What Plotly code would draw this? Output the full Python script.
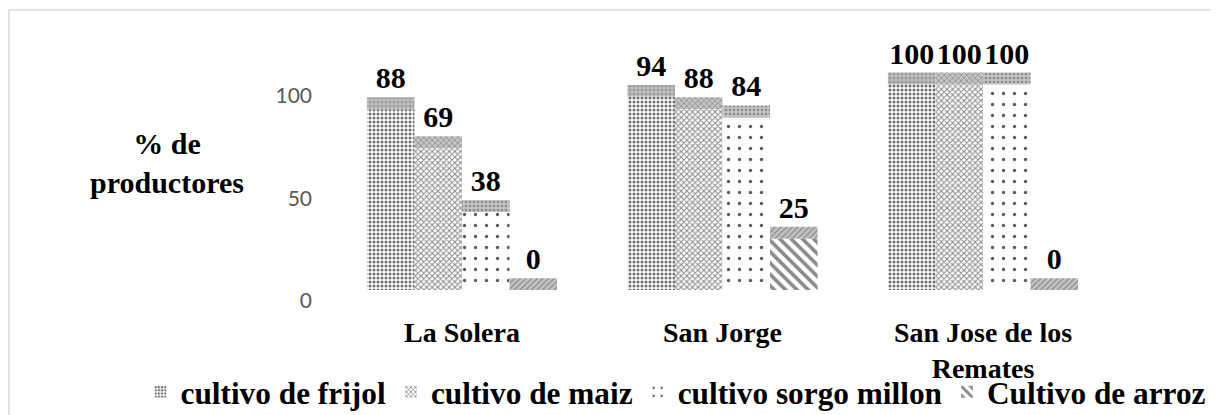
import plotly.graph_objects as go

# data
lugares = ["La Solera", "San Jorge", "San Jose de los<br>Remates"]
series = ["cultivo de frijol", "cultivo de maiz", "cultivo sorgo millon", "Cultivo de arroz"]
frijol = [88, 94, 100]
maiz = [69, 88, 100]
sorgo = [38, 84, 100]
arroz = [0, 25, 0]
y_ticks = [0, 50, 100]

valores = [frijol, maiz, sorgo, arroz]

# fake 3D look: front face lifted a bit, grey "top" cap on each bar
BASE = 5.3
CAP = 5.8

# (shape, size, solidity, fgcolor)
patrones = [
    (".", 4, 0.45, "#6f6f6f"),
    ("x", 4, 0.45, "#8a8a8a"),
    (".", 11, 0.07, "#5a5a5a"),
    ("\\", 8, 0.45, "#8a8a8a"),
]
patrones_cap = ["+", "x", ".", "/"]

serif = "Liberation Serif"

# the page body adds 8px around the figure, so work in figure pixels = screen - 8
# plot area spans the full width so the legend fits on one row; x range places the groups
OFF = 8
L, R = 0, 0
T, B = 44 - OFF, 415 - (301 - OFF)
W, H = 1219 - L - R, 415 - T - B
px_cat = 260.5          # pixels per category
x0 = -(462 - OFF - L) / px_cat

def px(sx):  # screen x -> paper x
    return (sx - OFF - L) / W

def py(sy):  # screen y -> paper y
    return (415 - B - (sy - OFF)) / H

fig = go.Figure()
for i, (nombre, vals) in enumerate(zip(series, valores)):
    shape, size, sol, fg = patrones[i]
    fig.add_trace(go.Bar(
        x=lugares, y=vals, base=[BASE] * len(vals),
        name=nombre, offsetgroup=str(i),
        marker=dict(color="white", line=dict(width=0),
                    pattern=dict(shape=shape, size=size, solidity=sol,
                                 fgcolor=fg, bgcolor="white", fillmode="replace")),
        hoverinfo="skip",
    ))
    # top cap, carries the data label
    fig.add_trace(go.Bar(
        x=lugares, y=[CAP] * len(vals), base=[BASE + v for v in vals],
        offsetgroup=str(i), showlegend=False,
        text=[str(v) for v in vals], textposition="outside",
        textfont=dict(family=serif, size=30, color="black", weight="bold"),
        constraintext="none", cliponaxis=False,
        marker=dict(color="#c4c4c4", line=dict(width=0),
                    pattern=dict(shape=patrones_cap[i], size=4, solidity=0.35,
                                 fgcolor="#8c8c8c", bgcolor="#c4c4c4", fillmode="replace")),
        hoverinfo="skip",
    ))

fig.update_layout(
    width=1219, height=415,
    barmode="group", bargap=0.27, bargroupgap=0,
    plot_bgcolor="rgba(0,0,0,0)", paper_bgcolor="white",
    margin=dict(l=L, r=R, t=T, b=B, autoexpand=False),
    showlegend=True,
    legend=dict(orientation="h", xref="container", yref="container",
                x=(676 - OFF) / 1219, xanchor="center",
                y=(415 - (392 - OFF)) / 415, yanchor="middle",
                itemwidth=30, bgcolor="rgba(0,0,0,0)",
                font=dict(family=serif, size=31.3, color="black", weight="bold"),
                itemclick=False, tracegroupgap=0),
    xaxis=dict(range=[x0, x0 + W / px_cat], showgrid=False, showline=False,
               zeroline=False, ticks="", automargin=False,
               tickfont=dict(family=serif, size=28, color="black", weight="bold"),
               ticklabelstandoff=12),
    yaxis=dict(range=[0, 125], tickvals=y_ticks, showgrid=False, showline=False,
               zeroline=False, ticks="", ticklabelstandoff=20, automargin=False,
               anchor="free", position=px(332),
               tickfont=dict(family="Lato", size=21, color="#595959")),
)

# y title, horizontal like the original
fig.add_annotation(text="<b>% de<br>productores</b>", xref="paper", yref="paper",
                   x=px(167), y=py(163), xanchor="center", yanchor="middle",
                   showarrow=False, font=dict(family=serif, size=30, color="black"))

# light grey chart frame (cut off at right/bottom like the source image)
fig.add_shape(type="rect", xref="paper", yref="paper",
              x0=px(OFF + 1), x1=px(1240),
              y0=py(440), y1=py(10),
              line=dict(color="#d9d9d9", width=1.5), layer="below")

fig.write_html("out.html")
